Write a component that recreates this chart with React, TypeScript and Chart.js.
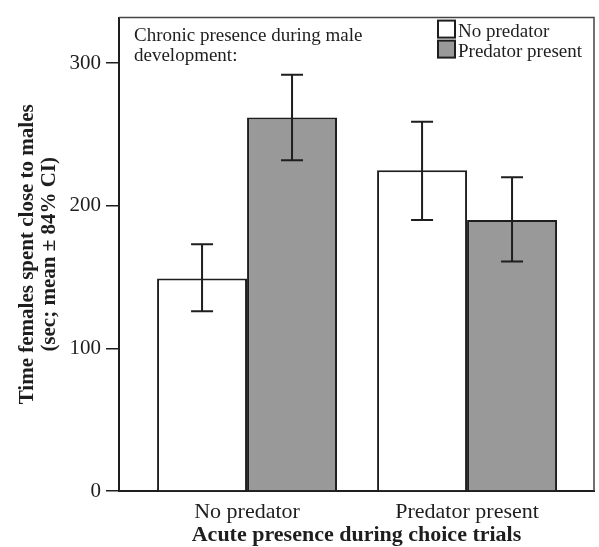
import React, { useEffect, useRef } from 'react';
import { Chart, registerables } from 'chart.js';

Chart.register(...registerables);

const categories = ['No predator', 'Predator present'];
const seriesLabels = ['No predator', 'Predator present'];
const noPredatorMeans = [149, 225];
const predatorMeans = [262, 190];
const noPredatorLower = [126, 190];
const noPredatorUpper = [173, 259];
const predatorLower = [232, 161];
const predatorUpper = [292, 220];
const yTicks = [0, 100, 200, 300];
const noteLines = ['Chronic presence during male', 'development:'];
const yTitle = ['Time females spent close to males', '(sec; mean ± 84% CI)'];
const xTitle = 'Acute presence during choice trials';

const FONT = "'Liberation Serif', 'Times New Roman', serif";
const INK = '#1e1e1e';

const errorBars = {
  id: 'errorBars',
  afterDatasetsDraw(chart: any) {
    const { ctx } = chart;
    const yScale = chart.scales.y;
    chart.data.datasets.forEach((ds: any, i: number) => {
      const meta = chart.getDatasetMeta(i);
      meta.data.forEach((bar: any, j: number) => {
        const x = bar.x;
        const yLo = yScale.getPixelForValue(ds.lower[j]);
        const yHi = yScale.getPixelForValue(ds.upper[j]);
        const cap = 11;
        ctx.save();
        ctx.strokeStyle = INK;
        ctx.lineWidth = 2;
        ctx.beginPath();
        ctx.moveTo(x, yLo);
        ctx.lineTo(x, yHi);
        ctx.moveTo(x - cap, yLo);
        ctx.lineTo(x + cap, yLo);
        ctx.moveTo(x - cap, yHi);
        ctx.lineTo(x + cap, yHi);
        ctx.stroke();
        ctx.restore();
      });
    });
  },
};

const frameAndNotes = {
  id: 'frameAndNotes',
  afterDraw(chart: any) {
    const { ctx, chartArea } = chart;
    const { left, top, right, bottom } = chartArea;
    ctx.save();
    ctx.strokeStyle = '#444';
    ctx.lineWidth = 1.5;
    ctx.beginPath();
    ctx.moveTo(left, top);
    ctx.lineTo(right, top);
    ctx.lineTo(right, bottom);
    ctx.stroke();

    ctx.fillStyle = INK;
    ctx.font = `19px ${FONT}`;
    ctx.textAlign = 'left';
    ctx.textBaseline = 'alphabetic';
    noteLines.forEach((line, i) => {
      ctx.fillText(line, left + 15, top + 23 + i * 20);
    });

    const boxX = 438;
    const box = 17;
    chart.data.datasets.forEach((ds: any, i: number) => {
      const baseY = top + 19 + i * 20;
      ctx.fillStyle = ds.backgroundColor;
      ctx.fillRect(boxX, baseY - box + 1, box, box);
      ctx.strokeStyle = INK;
      ctx.lineWidth = 2;
      ctx.strokeRect(boxX, baseY - box + 1, box, box);
      ctx.fillStyle = INK;
      ctx.font = `19px ${FONT}`;
      ctx.fillText(ds.label, boxX + box + 3, baseY);
    });
    ctx.restore();
  },
};

export default function App() {
  const ref = useRef<HTMLCanvasElement | null>(null);

  useEffect(() => {
    document.body.style.margin = '0';
    if (!ref.current) return;
    const chart = new Chart(ref.current, {
      type: 'bar',
      data: {
        datasets: [
          {
            label: seriesLabels[0],
            data: categories.map((_, i) => ({ x: i, y: noPredatorMeans[i] })),
            backgroundColor: '#ffffff',
            borderColor: INK,
            borderWidth: 2,
            categoryPercentage: 0.818,
            barPercentage: 1,
            lower: noPredatorLower,
            upper: noPredatorUpper,
          } as any,
          {
            label: seriesLabels[1],
            data: categories.map((_, i) => ({ x: i, y: predatorMeans[i] })),
            backgroundColor: '#999999',
            borderColor: INK,
            borderWidth: 2,
            categoryPercentage: 0.818,
            barPercentage: 1,
            lower: predatorLower,
            upper: predatorUpper,
          } as any,
        ],
      },
      options: {
        animation: false,
        responsive: false,
        maintainAspectRatio: false,
        layout: { padding: { top: 8, right: 5, left: 0, bottom: 0 } },
        plugins: { legend: { display: false }, tooltip: { enabled: false } },
        scales: {
          x: {
            type: 'linear',
            min: -0.582,
            max: 1.577,
            offset: false,
            afterBuildTicks: (s: any) => {
              s.ticks = categories.map((_, i) => ({ value: i }));
            },
            afterFit: (s: any) => {
              s.height = 56;
            },
            ticks: {
              autoSkip: false,
              maxRotation: 0,
              padding: 1,
              color: INK,
              font: { family: FONT, size: 22, lineHeight: 1.1 },
              callback: (v: any) => categories[v] ?? '',
            },
            grid: { display: false },
            border: { display: true, color: INK, width: 2 },
            title: {
              display: true,
              text: xTitle,
              color: INK,
              font: { family: FONT, size: 22, weight: 'bold', lineHeight: 1.1 },
              padding: { top: 0, bottom: 0 },
            },
          } as any,
          y: {
            min: 0,
            max: 332,
            afterBuildTicks: (s: any) => {
              s.ticks = yTicks.map((v) => ({ value: v }));
            },
            afterFit: (s: any) => {
              s.width = 119;
            },
            ticks: {
              padding: 5,
              color: INK,
              font: { family: FONT, size: 21 },
            },
            grid: {
              drawOnChartArea: false,
              drawTicks: true,
              tickLength: 13,
              color: INK,
              lineWidth: 1.5,
            },
            border: { display: true, color: INK, width: 2 },
            title: {
              display: true,
              text: yTitle,
              color: INK,
              font: { family: FONT, size: 21, weight: 'bold', lineHeight: 1.05 },
              padding: { top: 17, bottom: 0 },
            },
          } as any,
        },
      },
      plugins: [errorBars, frameAndNotes],
    });
    return () => chart.destroy();
  }, []);

  return <canvas ref={ref} width={599} height={547} style={{ display: 'block' }} />;
}
